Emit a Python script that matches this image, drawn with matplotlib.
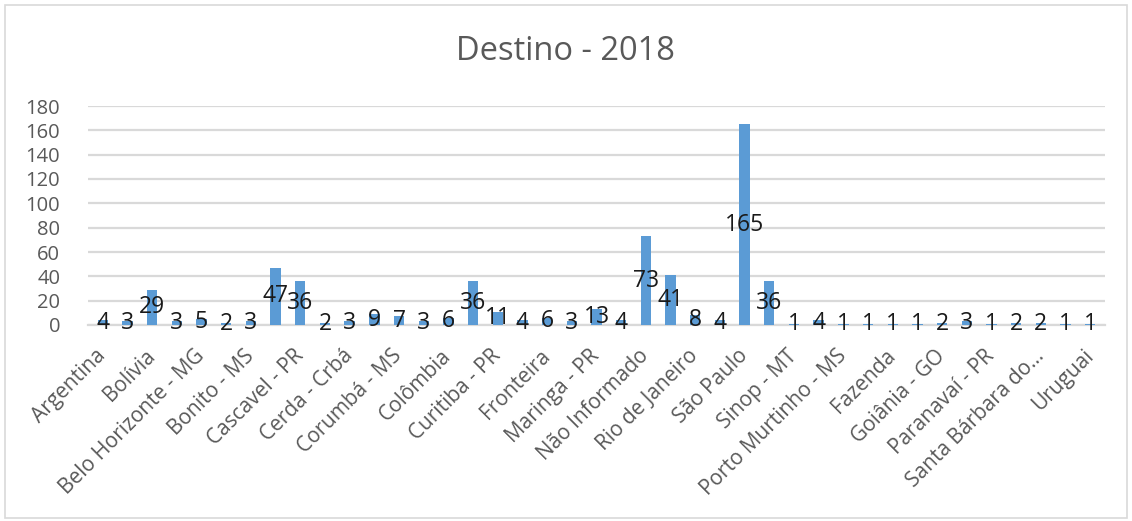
import matplotlib
matplotlib.use("Agg")
import matplotlib.pyplot as plt
from matplotlib.patches import Rectangle

# Destination counts for 2018 (41 destinations, every other one labelled on the axis)
values = [4, 3, 29, 3, 5, 2, 3, 47, 36, 2, 3, 9, 7, 3, 6, 36, 11, 4, 6, 3,
          13, 4, 73, 41, 8, 4, 165, 36, 1, 4, 1, 1, 1, 1, 2, 3, 1, 2, 2, 1, 1]
tick_labels = ["Argentina", "Bolívia", "Belo Horizonte - MG", "Bonito - MS",
               "Cascavel - PR", "Cerda - Crbá", "Corumbá - MS", "Colômbia",
               "Curitiba - PR", "Fronteira", "Maringa - PR", "Não Informado",
               "Rio de Janeiro", "São Paulo", "Sinop - MT", "Porto Murtinho - MS",
               "Fazenda", "Goiânia - GO", "Paranavaí - PR", "Santa Bárbara do...",
               "Uruguai"]
y_ticks = [0, 20, 40, 60, 80, 100, 120, 140, 160, 180]
title = "Destino - 2018"

plt.rcParams['font.family'] = ['Open Sans', 'DejaVu Sans']

W, H = 1132, 521
fig = plt.figure(figsize=(W / 100, H / 100), dpi=100)
ax = fig.add_axes([88 / W, 1 - 325 / H, (1105 - 88) / W, (325 - 106) / H])

x = list(range(len(values)))
bars = ax.bar(x, values, width=0.42, color="#5b9bd5", zorder=3)

for xi, v in zip(x, values):
    ax.text(xi, v / 2, str(v), ha="center", va="center", fontsize=16.5,
            color="#1a1a1a", zorder=4)

ax.set_xlim(-0.6, len(values) - 0.4)
ax.set_ylim(0, 180)
ax.set_yticks(y_ticks)
ax.set_yticklabels([str(t) for t in y_ticks], fontsize=14.5, color="#595959")
ax.set_xticks(x[::2])
ax.set_xticklabels(tick_labels, rotation=45, ha="right", va="center",
                   rotation_mode="anchor", fontsize=15, color="#595959")
ax.tick_params(axis="both", length=0)
ax.tick_params(axis="y", pad=20)
ax.tick_params(axis="x", pad=20)

ax.grid(axis="y", color="#d9d9d9", linewidth=1.6, zorder=0)
for side in ["top", "right", "left"]:
    ax.spines[side].set_visible(False)
ax.spines["bottom"].set_color("#d9d9d9")
ax.spines["bottom"].set_linewidth(1.6)

fig.text(0.5, 1 - 52 / H, title, ha="center", va="center", fontsize=23.5,
         color="#595959")

# Outer chart frame
fig.patches.append(Rectangle((5 / W, 3 / H), (W - 10) / W, (H - 8) / H,
                             transform=fig.transFigure, fill=False,
                             edgecolor="#d9d9d9", linewidth=1.2))

fig.savefig("out.png", dpi=100)
